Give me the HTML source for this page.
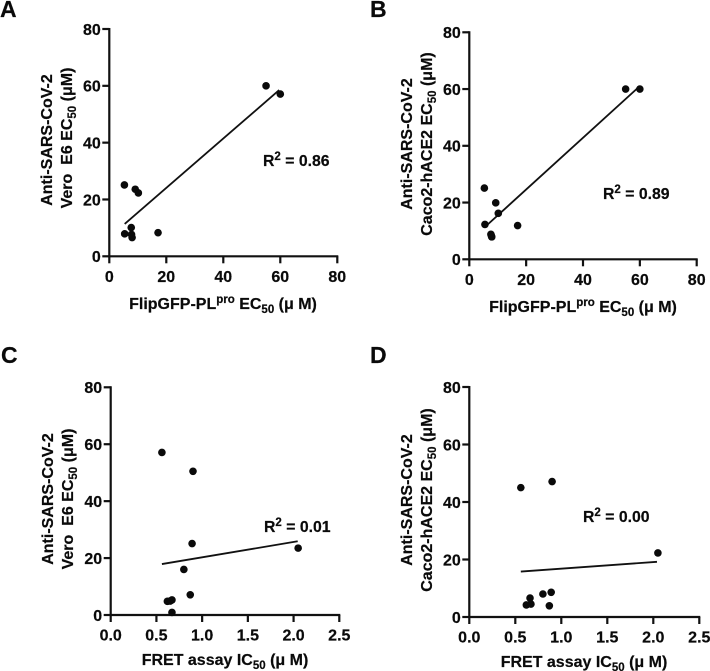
<!DOCTYPE html>
<html lang="en">
<head>
<meta charset="utf-8">
<title>Correlation of antiviral assays</title>
<style>
html,body{margin:0;padding:0;background:#fff;}
svg{display:block;}
text{font-family:"Liberation Sans",sans-serif;font-weight:bold;fill:#0a0a0a;stroke:#0a0a0a;stroke-width:0.2px;}
.tick{font-size:16px;}
.title{font-size:16px;text-anchor:middle;}
.sub{font-size:11.5px;}
.r2{font-size:15.8px;}
.letter{font-size:23px;}
</style>
</head>
<body>
<svg id="fig" width="710" height="671" viewBox="0 0 710 671" xmlns="http://www.w3.org/2000/svg">
  <text class="letter" x="0" y="17">A</text>
  <text class="letter" x="370" y="17">B</text>
  <text class="letter" x="1" y="363">C</text>
  <text class="letter" x="370" y="363">D</text>

  <text class="title" x="223" y="309">FlipGFP-PL<tspan class="sub" dy="-6">pro</tspan><tspan dy="6"> EC</tspan><tspan class="sub" dy="4">50</tspan><tspan dy="-4"> (μ M)</tspan></text>
  <text class="title" transform="translate(52,140) rotate(-90)">Anti-SARS-CoV-2</text>
  <text class="title" transform="translate(72,138) rotate(-90)" xml:space="preserve">Vero  E6 EC<tspan class="sub" dy="4">50</tspan><tspan dy="-4"> (μM)</tspan></text>
  <text class="r2" x="263" y="166">R<tspan class="sub" dy="-6">2</tspan><tspan dy="6"> = 0.86</tspan></text>

  <text class="title" x="583" y="312">FlipGFP-PL<tspan class="sub" dy="-6">pro</tspan><tspan dy="6"> EC</tspan><tspan class="sub" dy="4">50</tspan><tspan dy="-4"> (μ M)</tspan></text>
  <text class="title" transform="translate(412,144) rotate(-90)">Anti-SARS-CoV-2</text>
  <text class="title" transform="translate(432,144) rotate(-90)">Caco2-hACE2 EC<tspan class="sub" dy="4">50</tspan><tspan dy="-4"> (μM)</tspan></text>
  <text class="r2" x="603" y="199">R<tspan class="sub" dy="-6">2</tspan><tspan dy="6"> = 0.89</tspan></text>

  <text class="title" x="225" y="665">FRET assay IC<tspan class="sub" dy="4">50</tspan><tspan dy="-4"> (μ M)</tspan></text>
  <text class="title" transform="translate(53,499) rotate(-90)">Anti-SARS-CoV-2</text>
  <text class="title" transform="translate(73,499) rotate(-90)" xml:space="preserve">Vero  E6 EC<tspan class="sub" dy="4">50</tspan><tspan dy="-4"> (μM)</tspan></text>
  <text class="r2" x="264" y="532">R<tspan class="sub" dy="-6">2</tspan><tspan dy="6"> = 0.01</tspan></text>

  <text class="title" x="584" y="667">FRET assay IC<tspan class="sub" dy="4">50</tspan><tspan dy="-4"> (μ M)</tspan></text>
  <text class="title" transform="translate(412,500) rotate(-90)">Anti-SARS-CoV-2</text>
  <text class="title" transform="translate(432,500) rotate(-90)">Caco2-hACE2 EC<tspan class="sub" dy="4">50</tspan><tspan dy="-4"> (μM)</tspan></text>
  <text class="r2" x="583" y="522">R<tspan class="sub" dy="-6">2</tspan><tspan dy="6"> = 0.00</tspan></text>
</svg>
<script>
// Tick labels
var ecTicks = [0, 20, 40, 60, 80];
var ecTickLabels = ["0", "20", "40", "60", "80"];
var fretTicks = [0, 0.5, 1, 1.5, 2, 2.5];
var fretTickLabels = ["0.0", "0.5", "1.0", "1.5", "2.0", "2.5"];

// Panel A values
var aX = [5.3, 9.1, 10.2, 55, 60, 5.4, 7.7, 7.8, 8, 17.1];
var aY = [25.1, 23.6, 22.3, 60, 57.1, 7.9, 10.1, 7.7, 6.6, 8.3];
var aFitX = [5.4, 59.6];
var aFitY = [11.4, 58.5];

// Panel B values
var bX = [5.3, 9.3, 10.2, 55, 60, 5.5, 17, 7.6, 7.8, 7.9];
var bY = [25.1, 19.9, 16.2, 60, 60, 12.3, 11.9, 8.8, 8.2, 7.9];
var bFitX = [5.3, 59.5];
var bFitY = [11.2, 60.6];

// Panel C values
var cX = [0.56, 0.9, 0.89, 2.05, 0.8, 0.87, 0.62, 0.65, 0.67, 0.67];
var cY = [57.1, 50.5, 25.1, 23.5, 16, 7.1, 4.8, 4.9, 5.3, 0.9];
var cFitX = [0.56, 2.045];
var cFitY = [17.9, 25.9];

// Panel D values
var dX = [0.56, 0.9, 2.05, 0.89, 0.8, 0.66, 0.67, 0.62, 0.87];
var dY = [45, 47.1, 22.3, 8.6, 8, 6.6, 4.5, 4.2, 3.9];
var dFitX = [0.56, 2.04];
var dFitY = [15.8, 19.2];

var NS = "http://www.w3.org/2000/svg";
var fig = document.getElementById("fig");

function make(tag, parent) {
  var node = document.createElementNS(NS, tag);
  parent.appendChild(node);
  return node;
}

function scale(d0, d1, r0, r1) {
  return function (v) { return r0 + (v - d0) / (d1 - d0) * (r1 - r0); };
}

function drawPanel(id, box, xMax, xTicks, xLabels, xs, ys, fitX, fitY) {
  var sx = scale(0, xMax, box.left, box.right);
  var sy = scale(0, 80, box.bottom, box.top);

  var g = make("g", fig);
  
  

  var xAxis = make("path", g);
  xAxis.setAttribute("d", "M" + box.left + " " + box.bottom + "H" + (box.right + 1));
  xAxis.setAttribute("stroke", "#111");
  xAxis.setAttribute("stroke-width", "2.2");
  xAxis.setAttribute("fill", "none");
  
  

  var yAxis = make("path", g);
  yAxis.setAttribute("d", "M" + box.left + " " + (box.bottom + 1) + "V" + (box.top - 1));
  yAxis.setAttribute("stroke", "#111");
  yAxis.setAttribute("stroke-width", "2.2");
  yAxis.setAttribute("fill", "none");
  
  

  xTicks.forEach(function (t, i) {
    var mark = make("line", g);
    mark.setAttribute("x1", sx(t));
    mark.setAttribute("x2", sx(t));
    mark.setAttribute("y1", box.bottom);
    mark.setAttribute("y2", box.bottom + 7);
    mark.setAttribute("stroke", "#111");
    mark.setAttribute("stroke-width", "2.2");
    
    
    var label = make("text", g);
    label.setAttribute("class", "tick");
    label.setAttribute("x", sx(t));
    label.setAttribute("y", box.bottom + 25.5);
    label.setAttribute("text-anchor", "middle");
    
    
    label.textContent = xLabels[i];
  });

  ecTicks.forEach(function (t, i) {
    var mark = make("line", g);
    mark.setAttribute("x1", box.left - 7);
    mark.setAttribute("x2", box.left);
    mark.setAttribute("y1", sy(t));
    mark.setAttribute("y2", sy(t));
    mark.setAttribute("stroke", "#111");
    mark.setAttribute("stroke-width", "2.2");
    
    
    var label = make("text", g);
    label.setAttribute("class", "tick");
    label.setAttribute("x", box.left - 8.5);
    label.setAttribute("y", sy(t) + 5.8);
    label.setAttribute("text-anchor", "end");
    
    
    label.textContent = ecTickLabels[i];
  });

  var fit = make("line", g);
  fit.setAttribute("x1", sx(fitX[0]));
  fit.setAttribute("y1", sy(fitY[0]));
  fit.setAttribute("x2", sx(fitX[1]));
  fit.setAttribute("y2", sy(fitY[1]));
  fit.setAttribute("stroke", "#111");
  fit.setAttribute("stroke-width", "1.8");
  
  

  xs.forEach(function (v, i) {
    var dot = make("circle", g);
    dot.setAttribute("cx", sx(v));
    dot.setAttribute("cy", sy(ys[i]));
    dot.setAttribute("r", "3.8");
    dot.setAttribute("fill", "#0a0a0a");
    
    
  });
}

drawPanel("a", {left: 109.3, right: 337.3, top: 29, bottom: 256.3}, 80, ecTicks, ecTickLabels, aX, aY, aFitX, aFitY);
drawPanel("b", {left: 469.3, right: 696.7, top: 32.3, bottom: 259.3}, 80, ecTicks, ecTickLabels, bX, bY, bFitX, bFitY);
drawPanel("c", {left: 110.7, right: 339.3, top: 387.3, bottom: 615}, 2.5, fretTicks, fretTickLabels, cX, cY, cFitX, cFitY);
drawPanel("d", {left: 469.3, right: 699.3, top: 387, bottom: 617}, 2.5, fretTicks, fretTickLabels, dX, dY, dFitX, dFitY);
</script>
</body>
</html>
